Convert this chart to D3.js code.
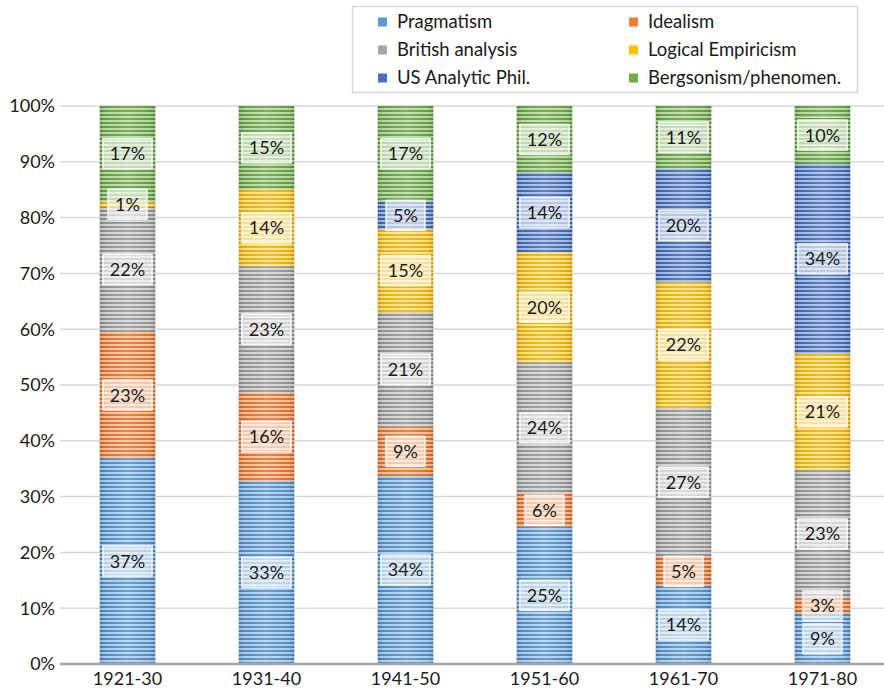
<!DOCTYPE html>
<html>
<head>
<meta charset="utf-8">
<script src="https://cdn.jsdelivr.net/npm/d3@7"></script>
<style>
  body { margin: 0; background: #fff; }
  text { font-family: Lato, "Open Sans", sans-serif; fill: #1a1a1a; }
</style>
</head>
<body>
<div id="chart"></div>
<script>
// values (percent of each decade)
const decades = ["1921-30", "1931-40", "1941-50", "1951-60", "1961-70", "1971-80"];
const pragmatism = [36.9, 32.8, 33.7, 24.6, 14.0, 9.0];
const idealism = [22.6, 15.9, 8.8, 5.9, 5.2, 2.8];
const britishAnalysis = [22.4, 22.6, 20.6, 23.6, 26.8, 23.0];
const logicalEmpiricism = [1.0, 13.7, 14.8, 19.7, 22.4, 20.8];
const usAnalytic = [0, 0, 5.0, 14.2, 20.4, 34.0];
const bergsonism = [17.1, 15.0, 17.1, 12.0, 11.2, 10.4];
const yTicks = [0, 10, 20, 30, 40, 50, 60, 70, 80, 90, 100];

const seriesNames = ["Pragmatism", "Idealism", "British analysis", "Logical Empiricism", "US Analytic Phil.", "Bergsonism/phenomen."];
const seriesValues = [pragmatism, idealism, britishAnalysis, logicalEmpiricism, usAnalytic, bergsonism];
const colors = ["#5b9bd5", "#ed7d31", "#a5a5a5", "#ffc000", "#4472c4", "#70ad47"];
const stripeColors = ["#4a87c0", "#d96c25", "#8f8f8f", "#e8ad00", "#3a62ab", "#5e9a3a"];

const width = 884, height = 691;
const margin = { top: 106, right: 0, bottom: 27, left: 58 };

const svg = d3.select("#chart").append("svg")
  .attr("width", width)
  .attr("height", height);

// rows for d3.stack
const rows = decades.map((d, i) => {
  const r = { decade: d };
  seriesNames.forEach((s, j) => r[s] = seriesValues[j][i]);
  return r;
});
const stacked = d3.stack().keys(seriesNames)(rows);

const x = d3.scaleBand()
  .domain(decades)
  .range([margin.left, 892])
  .paddingInner(0.6)
  .paddingOuter(0.3);

const y = d3.scaleLinear()
  .domain([0, 100])
  .range([height - margin.bottom, margin.top]);

// striped fills
const defs = svg.append("defs");
colors.forEach((c, i) => {
  const p = defs.append("pattern")
    .attr("id", "stripe" + i)
    .attr("patternUnits", "userSpaceOnUse")
    .attr("width", 8).attr("height", 4);
  p.append("rect").attr("width", 8).attr("height", 4)
    .attr("fill", d3.interpolateRgb(c, "#fff")(0.5));
  p.append("rect").attr("y", 2).attr("width", 8).attr("height", 2)
    .attr("fill", stripeColors[i]);
});
const sheen = defs.append("linearGradient").attr("id", "sheen");
sheen.append("stop").attr("offset", "0%").attr("stop-color", "#000").attr("stop-opacity", 0.12);
sheen.append("stop").attr("offset", "15%").attr("stop-color", "#fff").attr("stop-opacity", 0.05);
sheen.append("stop").attr("offset", "50%").attr("stop-color", "#fff").attr("stop-opacity", 0.2);
sheen.append("stop").attr("offset", "85%").attr("stop-color", "#fff").attr("stop-opacity", 0.05);
sheen.append("stop").attr("offset", "100%").attr("stop-color", "#000").attr("stop-opacity", 0.12);

// gridlines
svg.append("g")
  .selectAll("line")
  .data(yTicks.filter(t => t > 0))
  .join("line")
  .attr("x1", margin.left + 2).attr("x2", width)
  .attr("y1", d => y(d)).attr("y2", d => y(d))
  .attr("stroke", "#d9d9d9")
  .attr("stroke-width", 1.5);

// y tick labels
svg.append("g")
  .selectAll("text")
  .data(yTicks)
  .join("text")
  .attr("x", 55)
  .attr("y", d => y(d))
  .attr("dy", "0.35em")
  .attr("text-anchor", "end")
  .style("font-size", "18px")
  .text(d => d + "%");

// bars
const layers = svg.append("g")
  .selectAll("g")
  .data(stacked)
  .join("g")
  .attr("fill", (d, i) => `url(#stripe${i})`);

layers.selectAll("rect")
  .data(d => d.filter(p => p[1] - p[0] > 0))
  .join("rect")
  .attr("x", d => x(d.data.decade))
  .attr("y", d => y(d[1]))
  .attr("width", x.bandwidth())
  .attr("height", d => y(d[0]) - y(d[1]));

svg.append("g")
  .selectAll("rect")
  .data(decades)
  .join("rect")
  .attr("x", d => x(d))
  .attr("y", y(100))
  .attr("width", x.bandwidth())
  .attr("height", y(0) - y(100))
  .attr("fill", "url(#sheen)");

// baseline
svg.append("line")
  .attr("x1", margin.left + 2).attr("x2", width)
  .attr("y1", y(0)).attr("y2", y(0))
  .attr("stroke", "#a6a6a6")
  .attr("stroke-width", 2.5);

// x labels
svg.append("g")
  .selectAll("text")
  .data(decades)
  .join("text")
  .attr("x", d => x(d) + x.bandwidth() / 2)
  .attr("y", 679)
  .attr("dy", "0.35em")
  .attr("text-anchor", "middle")
  .style("font-size", "18px")
  .text(d => d);

// data labels
const labels = svg.append("g")
  .selectAll("g")
  .data(stacked.flatMap(s => s.filter(p => p[1] - p[0] > 0)))
  .join("g")
  .attr("transform", d => `translate(${x(d.data.decade) + x.bandwidth() / 2},${y((d[0] + d[1]) / 2)})`);

labels.append("rect")
  .attr("fill", "#fff")
  .attr("fill-opacity", 0.6)
  .attr("stroke", "#fff")
  .attr("stroke-opacity", 0.85)
  .attr("stroke-width", 1.5);

labels.append("text")
  .attr("text-anchor", "middle")
  .attr("dy", "0.36em")
  .style("font-size", "18px")
  .text(d => Math.round(d[1] - d[0]) + "%")
  .each(function () {
    const w = this.getComputedTextLength() + 14;
    d3.select(this.parentNode).select("rect")
      .attr("x", -w / 2).attr("y", -15)
      .attr("width", w).attr("height", 30);
  });

// legend
const legend = svg.append("g");
legend.append("rect")
  .attr("x", 352.5).attr("y", 6.5)
  .attr("width", 505).attr("height", 86)
  .attr("fill", "#fff")
  .attr("stroke", "#d9d9d9")
  .attr("stroke-width", 1.5);

const items = legend.selectAll("g")
  .data(seriesNames)
  .join("g")
  .attr("transform", (d, i) => `translate(${i % 2 === 0 ? 378 : 629},${22 + Math.floor(i / 2) * 28})`);

items.append("rect")
  .attr("x", 0).attr("y", -4.5)
  .attr("width", 9).attr("height", 9)
  .attr("fill", (d, i) => colors[i]);

items.append("text")
  .attr("x", 19)
  .attr("dy", "0.35em")
  .style("font-size", "18.5px")
  .text(d => d);
</script>
</body>
</html>
